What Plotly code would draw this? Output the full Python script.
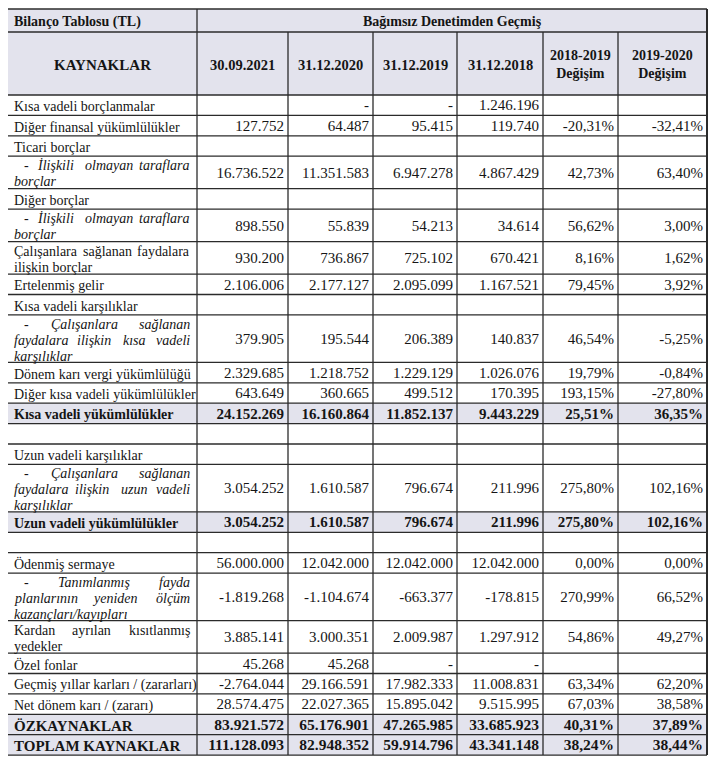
import plotly.graph_objects as go

# ---------------- data ----------------
title_left = "Bilanço Tablosu (TL)"
title_right = "Bağımsız Denetimden Geçmiş"
col_headers = ["KAYNAKLAR", "30.09.2021", "31.12.2020", "31.12.2019", "31.12.2018",
               "2018-2019\nDeğişim", "2019-2020\nDeğişim"]

labels = [
    "Kısa vadeli borçlanmalar",
    "Diğer finansal yükümlülükler",
    "Ticari borçlar",
    "- İlişkili olmayan taraflara\nborçlar",
    "Diğer borçlar",
    "- İlişkili olmayan taraflara\nborçlar",
    "Çalışanlara sağlanan faydalara\nilişkin borçlar",
    "Ertelenmiş gelir",
    "Kısa vadeli karşılıklar",
    "- Çalışanlara sağlanan\nfaydalara ilişkin kısa vadeli\nkarşılıklar",
    "Dönem karı vergi yükümlülüğü",
    "Diğer kısa vadeli yükümlülükler",
    "Kısa vadeli yükümlülükler",
    "",
    "Uzun vadeli karşılıklar",
    "- Çalışanlara sağlanan\nfaydalara ilişkin uzun vadeli\nkarşılıklar",
    "Uzun vadeli yükümlülükler",
    "",
    "Ödenmiş sermaye",
    "- Tanımlanmış fayda\nplanlarının yeniden ölçüm\nkazançları/kayıpları",
    "Kardan ayrılan kısıtlanmış\nyedekler",
    "Özel fonlar",
    "Geçmiş yıllar karları / (zararları)",
    "Net dönem karı / (zararı)",
    "ÖZKAYNAKLAR",
    "TOPLAM KAYNAKLAR",
]
# n = normal, i = italic sub item, t = total (bold, shaded), b = blank
row_kind = ["n", "n", "n", "i", "n", "i", "n", "n", "n", "i", "n", "n", "t", "b",
            "n", "i", "t", "b", "n", "i", "n", "n", "n", "n", "t", "t"]

v_2021 = [None, 127752, None, 16736522, None, 898550, 930200, 2106006, None, 379905,
          2329685, 643649, 24152269, None, None, 3054252, 3054252, None, 56000000,
          -1819268, 3885141, 45268, -2764044, 28574475, 83921572, 111128093]
v_2020 = [0, 64487, None, 11351583, None, 55839, 736867, 2177127, None, 195544,
          1218752, 360665, 16160864, None, None, 1610587, 1610587, None, 12042000,
          -1104674, 3000351, 45268, 29166591, 22027365, 65176901, 82948352]
v_2019 = [0, 95415, None, 6947278, None, 54213, 725102, 2095099, None, 206389,
          1229129, 499512, 11852137, None, None, 796674, 796674, None, 12042000,
          -663377, 2009987, 0, 17982333, 15895042, 47265985, 59914796]
v_2018 = [1246196, 119740, None, 4867429, None, 34614, 670421, 1167521, None, 140837,
          1026076, 170395, 9443229, None, None, 211996, 211996, None, 12042000,
          -178815, 1297912, 0, 11008831, 9515995, 33685923, 43341148]
chg_1819 = [None, -20.31, None, 42.73, None, 56.62, 8.16, 79.45, None, 46.54,
            19.79, 193.15, 25.51, None, None, 275.80, 275.80, None, 0.00,
            270.99, 54.86, None, 63.34, 67.03, 40.31, 38.24]
chg_1920 = [None, -32.41, None, 63.40, None, 3.00, 1.62, 3.92, None, -5.25,
            -0.84, -27.80, 36.35, None, None, 102.16, 102.16, None, 0.00,
            66.52, 49.27, None, 62.20, 38.58, 37.89, 38.44]

# ---------------- layout constants ----------------
PAGE_W, PAGE_H = 717, 767
BODY = 8  # default page margin around the plot div
FONT = "Liberation Serif"
col_edges = [7, 197, 288, 373, 457, 543, 618, 707]
y_top = 9
h_head1 = 23
h_head2 = 63
row_h = {1: 20.4, 2: 32.5, 3: 47.5}
line_h = 16
text_dy = 1.5
shade = "#e3e3ed"
line_col = "#2b2b2b"
txt_col = "#151515"
FS = 14
FS_NUM = 15


def fmt_amount(v):
    if v is None:
        return ""
    if v == 0:
        return "-"
    return f"{v:,}".replace(",", ".")


def fmt_pct(v):
    if v is None:
        return ""
    return f"{v:.2f}".replace(".", ",") + "%"


# character widths (em) approximating Times metrics
CW = {}
for c in "iılj.,:;'|!İI":
    CW[c] = 0.278
for c in "frt()/-":
    CW[c] = 0.333
for c in "sşz":
    CW[c] = 0.389
for c in "aceç":
    CW[c] = 0.444
CW["m"] = 0.778
CW["w"] = 0.722
for c in "ABCDEFGHJKLNOPQRSTUVXYZÇĞÖŞÜ":
    CW[c] = 0.667
CW["M"] = 0.889
CW[" "] = 0.25


def tw(s, size):
    return sum(CW.get(c, 0.5) for c in s) * size


# row geometry
n_lines = [max(1, len(l.split("\n"))) for l in labels]
tops = []
y = y_top + h_head1 + h_head2
for n in n_lines:
    tops.append(y)
    y += row_h[n]
bottom = y
centers = [t + row_h[n] / 2 for t, n in zip(tops, n_lines)]

shapes = []
annotations = []

# shaded header rows
shapes.append(dict(type="rect", x0=col_edges[0], x1=col_edges[-1], y0=y_top,
                   y1=y_top + h_head1 + h_head2, fillcolor=shade, line_width=0, layer="below"))
# shaded total rows
for t, n, k in zip(tops, n_lines, row_kind):
    if k == "t":
        shapes.append(dict(type="rect", x0=col_edges[0], x1=col_edges[-1], y0=t,
                           y1=t + row_h[n], fillcolor=shade, line_width=0, layer="below"))

# horizontal lines
hlines = [y_top, y_top + h_head1, y_top + h_head1 + h_head2] + tops[1:] + [bottom]
for yy in hlines:
    shapes.append(dict(type="line", x0=col_edges[0], x1=col_edges[-1], y0=yy, y1=yy,
                       line=dict(color=line_col, width=1.3)))
# vertical lines
for i, xx in enumerate(col_edges):
    y0 = y_top if i in (0, 1, len(col_edges) - 1) else y_top + h_head1
    wdt = 2.0 if i == len(col_edges) - 1 else 1.3
    shapes.append(dict(type="line", x0=xx, x1=xx, y0=y0, y1=bottom,
                       line=dict(color=line_col, width=wdt)))


def ann(text, x, yy, anchor="left", size=FS):
    annotations.append(dict(text=text, x=x, y=yy, xref="x", yref="y", xanchor=anchor,
                            yanchor="middle", showarrow=False,
                            font=dict(family=FONT, size=size, color=txt_col)))


# header texts
ann("<b>" + title_left + "</b>", col_edges[0] + 5, y_top + h_head1 / 2 + 1)
ann("<b>" + title_right + "</b>", (col_edges[1] + col_edges[-1]) / 2, y_top + h_head1 / 2 + 1, "center")
hc = y_top + h_head1 + h_head2 / 2 + 1
for j, htxt in enumerate(col_headers):
    xc = (col_edges[j] + col_edges[j + 1]) / 2
    ann("<b>" + htxt.replace("\n", "<br>") + "</b>", xc, hc, "center",
        FS + 1 if j == 0 else (FS + 0.5 if j <= 4 else FS))

# label column texts (justified paragraphs like the source)
x_left = col_edges[0] + 5
x_right = col_edges[1] - 5
for lab, kind, c, n in zip(labels, row_kind, centers, n_lines):
    if not lab:
        continue
    lines = lab.split("\n")
    size = FS + 1 if lab in ("ÖZKAYNAKLAR", "TOPLAM KAYNAKLAR") else FS
    for k, line in enumerate(lines):
        yy = c + text_dy + (k - (len(lines) - 1) / 2) * line_h
        x0 = x_left + (10 if (kind == "i" and k == 0) else 0)
        wrap = (lambda s: "<i>" + s + "</i>") if kind == "i" else \
               ((lambda s: "<b>" + s + "</b>") if kind == "t" else (lambda s: s))
        words = line.split()
        justify = k < len(lines) - 1 and len(words) > 1
        if not justify:
            ann(wrap(line), x0, yy, "left", size)
            continue
        widths = [tw(w, size) for w in words]
        gap = (x_right - x0 - sum(widths)) / (len(words) - 1)
        pos = x0
        for i, (w, wd) in enumerate(zip(words, widths)):
            if i == 0:
                ann(wrap(w), x0, yy, "left", size)
            elif i == len(words) - 1:
                ann(wrap(w), x_right, yy, "right", size)
            else:
                ann(wrap(w), pos + wd / 2, yy, "center", size)
            pos += wd + gap

# numeric columns as text traces on the axes
value_cols = [
    [fmt_amount(v) for v in v_2021],
    [fmt_amount(v) for v in v_2020],
    [fmt_amount(v) for v in v_2019],
    [fmt_amount(v) for v in v_2018],
    [fmt_pct(v) for v in chg_1819],
    [fmt_pct(v) for v in chg_1920],
]
fig = go.Figure()
sizes = [FS_NUM + 0.5 if lab in ("ÖZKAYNAKLAR", "TOPLAM KAYNAKLAR") else FS_NUM for lab in labels]
for j, col in enumerate(value_cols):
    texts = [("<b>" + s + "</b>") if (k == "t" and s) else s for s, k in zip(col, row_kind)]
    fig.add_trace(go.Scatter(
        x=[col_edges[j + 2] - 4] * len(texts), y=[c + text_dy for c in centers],
        text=texts, mode="text",
        textposition="middle left", hoverinfo="skip", showlegend=False,
        textfont=dict(family=FONT, size=sizes, color=txt_col)))

# the plot div sits inside the page margin; offset the axis ranges so that
# axis units equal page pixels
fw, fh = PAGE_W - 2 * BODY, PAGE_H - 2 * BODY
fig.update_layout(
    width=fw, height=fh, margin=dict(l=0, r=0, t=0, b=0),
    paper_bgcolor="#ffffff", plot_bgcolor="#ffffff",
    xaxis=dict(range=[BODY, BODY + fw], visible=False, fixedrange=True),
    yaxis=dict(range=[BODY + fh, BODY], visible=False, fixedrange=True),
    shapes=shapes, annotations=annotations, showlegend=False,
)
fig.write_html("out.html")
